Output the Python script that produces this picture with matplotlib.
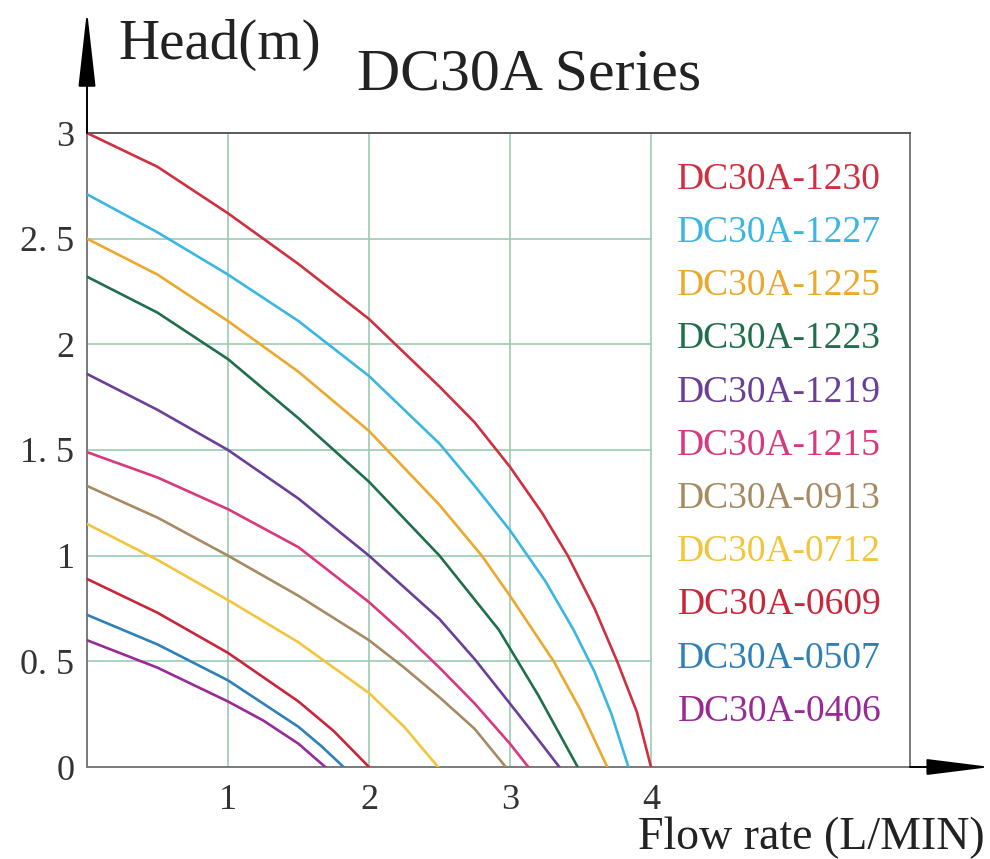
import matplotlib
matplotlib.use('Agg')
import matplotlib.pyplot as plt

# pump curves: flow (L/min) vs head (m)
models = ['DC30A-1230', 'DC30A-1227', 'DC30A-1225', 'DC30A-1223', 'DC30A-1219', 'DC30A-1215',
          'DC30A-0913', 'DC30A-0712', 'DC30A-0609', 'DC30A-0507', 'DC30A-0406']
colors = ['#cf3040', '#3ab6e0', '#eaa82c', '#1f6f4c', '#6b3f98', '#d8387e',
          '#a68b62', '#f2c53c', '#c9263a', '#2e80b8', '#982a98']

flow_1230 = [0, 0.5, 1, 1.5, 2, 2.5, 2.75, 3.0, 3.23, 3.41, 3.6, 3.76, 3.9, 4.0]
head_1230 = [3.0, 2.84, 2.62, 2.38, 2.12, 1.8, 1.63, 1.42, 1.2, 1.0, 0.75, 0.5, 0.26, 0]
flow_1227 = [0, 0.5, 1, 1.5, 2, 2.5, 2.75, 3.0, 3.25, 3.45, 3.6, 3.72, 3.84]
head_1227 = [2.71, 2.53, 2.33, 2.11, 1.85, 1.53, 1.33, 1.12, 0.88, 0.65, 0.45, 0.25, 0]
flow_1225 = [0, 0.5, 1, 1.5, 2, 2.5, 2.8, 3.0, 3.17, 3.31, 3.5, 3.69]
head_1225 = [2.5, 2.33, 2.11, 1.87, 1.59, 1.24, 1.0, 0.81, 0.64, 0.5, 0.27, 0]
flow_1223 = [0, 0.5, 1, 1.5, 2, 2.5, 2.92, 3.2, 3.48]
head_1223 = [2.32, 2.15, 1.93, 1.65, 1.35, 1.0, 0.65, 0.34, 0]
flow_1219 = [0, 0.5, 1, 1.5, 2, 2.5, 2.75, 3.0, 3.2, 3.35]
head_1219 = [1.86, 1.69, 1.5, 1.27, 1.0, 0.70, 0.51, 0.30, 0.13, 0]
flow_1215 = [0, 0.5, 1, 1.5, 2, 2.25, 2.5, 2.75, 3.0, 3.13]
head_1215 = [1.49, 1.37, 1.22, 1.04, 0.78, 0.63, 0.47, 0.3, 0.11, 0]
flow_0913 = [0, 0.5, 1, 1.5, 2, 2.25, 2.5, 2.75, 2.97]
head_0913 = [1.33, 1.18, 1.0, 0.81, 0.6, 0.47, 0.33, 0.18, 0]
flow_0712 = [0, 0.5, 1, 1.5, 2, 2.25, 2.49]
head_0712 = [1.15, 0.98, 0.79, 0.59, 0.35, 0.19, 0]
flow_0609 = [0, 0.5, 1, 1.5, 1.75, 2.0]
head_0609 = [0.89, 0.73, 0.54, 0.31, 0.17, 0]
flow_0507 = [0, 0.5, 1, 1.5, 1.66, 1.82]
head_0507 = [0.72, 0.58, 0.41, 0.19, 0.1, 0]
flow_0406 = [0, 0.5, 1, 1.25, 1.5, 1.69]
head_0406 = [0.6, 0.47, 0.31, 0.22, 0.11, 0]

flows = [flow_1230, flow_1227, flow_1225, flow_1223, flow_1219, flow_1215,
         flow_0913, flow_0712, flow_0609, flow_0507, flow_0406]
heads = [head_1230, head_1227, head_1225, head_1223, head_1219, head_1215,
         head_0913, head_0712, head_0609, head_0507, head_0406]

x_ticks = [1, 2, 3, 4]
y_ticks = [0, 0.5, 1, 1.5, 2, 2.5, 3]
y_ticklabels = ['0', '0. 5', '1', '1. 5', '2', '2. 5', '3']

serif = 'Liberation Serif'
grid_col = '#9ccbb0'

fig = plt.figure(figsize=(9.9, 8.59), dpi=100)
ax = fig.add_axes([87/990, 1-767/859, (910-87)/990, (767-133)/859])
ax.set_xlim(0, 5.837)
ax.set_ylim(0, 3)

# grid only inside the 0..4 range
ax.vlines(x_ticks, 0, 3, color=grid_col, lw=1.2, zorder=1)
ax.hlines(y_ticks[1:-1], 0, 4, color=grid_col, lw=1.2, zorder=1)

for q, h, c in zip(flows, heads, colors):
    ax.plot(q, h, color=c, lw=1.9, zorder=3, solid_joinstyle='round')

# spines
for side in ['left', 'right', 'bottom']:
    ax.spines[side].set_color('#7a7a7a')
    ax.spines[side].set_linewidth(1.4)
ax.spines['top'].set_color('#5a5a5a')
ax.spines['top'].set_linewidth(1.4)

ax.set_xticks(x_ticks)
ax.set_xticklabels([str(t) for t in x_ticks], fontfamily=serif, fontsize=26)
ax.set_yticks(y_ticks)
ax.set_yticklabels(y_ticklabels, fontfamily=serif, fontsize=26)
ax.tick_params(axis='x', length=0, pad=12, colors='#333333')
ax.tick_params(axis='y', length=0, pad=9, colors='#333333')

# legend as coloured labels in the right part of the box
for i, (name, c) in enumerate(zip(models, colors)):
    ax.text(4.91, 2.78 - i*0.2518, name, color=c, fontsize=27, family=serif,
            ha='center', va='center')

# axis arrows
ax.annotate('', xy=(0, 3.58), xytext=(0, 3.0), annotation_clip=False,
            arrowprops=dict(arrowstyle='-|>,head_length=2.4,head_width=0.27',
                            mutation_scale=20, color='black', lw=1.4, shrinkA=0, shrinkB=0))
ax.annotate('', xy=(6.41, 0), xytext=(5.837, 0), annotation_clip=False,
            arrowprops=dict(arrowstyle='-|>,head_length=2.0,head_width=0.25',
                            mutation_scale=20, color='black', lw=1.4, shrinkA=0, shrinkB=0))

fig.text(118/990, 1-45/859, 'Head(m)', fontfamily=serif, fontsize=41, ha='left', va='center', color='#222222')
fig.text(357/990, 1-75/859, 'DC30A Series', fontfamily=serif, fontsize=43, ha='left', va='center', color='#222222')
fig.text(985/990, 1-838/859, 'Flow rate (L/MIN)', fontfamily=serif, fontsize=33, ha='right', va='center', color='#222222')

fig.savefig('out.png', dpi=100, facecolor='white')
